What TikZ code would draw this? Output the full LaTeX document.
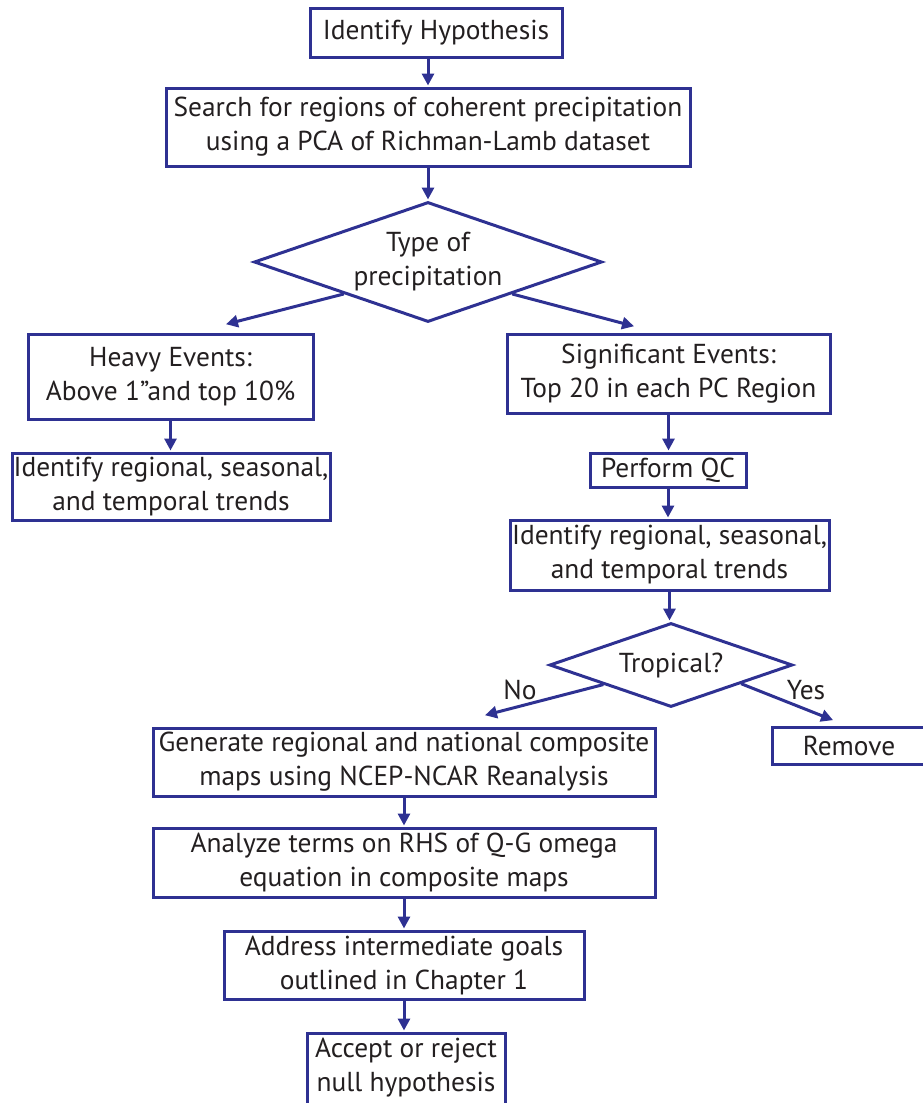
\documentclass[tikz,border=0pt]{standalone}
\usepackage{fontspec}
\setmainfont{PT Sans}
\usetikzlibrary{arrows.meta,shapes.geometric,calc}
\definecolor{fcblue}{RGB}{46,49,146}
\definecolor{fctext}{RGB}{35,31,32}
\tikzset{
  box/.style={draw=fcblue, line width=3pt, rectangle, inner sep=0pt, align=center, text=fctext},
  decision/.style={draw=fcblue, line width=3pt, diamond, inner sep=0pt},
  lbl/.style={align=center, text=fctext, inner sep=0pt},
  conn/.style={draw=fcblue, line width=3pt, -{Triangle[length=12pt,width=12pt]}, shorten >=1pt},
}
\begin{document}
\begin{tikzpicture}[x=1pt,y=-1pt, font=\fontsize{27.4}{34}\selectfont]
\useasboundingbox (0,0) rectangle (922,1103);
\node[box, minimum width=252pt, minimum height=49pt] (hyp) at (436,32.5) {Identify Hypothesis};
\node[box, minimum width=524pt, minimum height=78pt] (search) at (428,127) {Search for regions of coherent precipitation\\using a PCA of Richman-Lamb dataset};
\node[decision, minimum width=348pt, minimum height=120pt] (d1) at (428,262) {};
\node[lbl] (d1t) at (428,262) {Type of\\precipitation};
\node[box, minimum width=285pt, minimum height=85pt] (heavy) at (170.5,376.5) {Heavy Events:\\Above 1\textquotedblright and top 10\%};
\node[box, minimum width=318pt, minimum height=67pt] (idL) at (171,486.5) {Identify regional, seasonal,\\and temporal trends};
\node[box, minimum width=323pt, minimum height=79pt] (sig) at (668.5,373.5) {Significant Events:\\Top 20 in each PC Region};
\node[box, minimum width=156pt, minimum height=34pt] (qc) at (668,470) {Perform QC};
\node[box, minimum width=319pt, minimum height=70pt] (idR) at (669.5,555) {Identify regional, seasonal,\\and temporal trends};
\node[decision, minimum width=243pt, minimum height=84pt] (d2) at (671,665) {};
\node[lbl] (d2t) at (671,665) {Tropical?};
\node[box, minimum width=502pt, minimum height=68pt] (gen) at (404,762) {Generate regional and national composite\\maps using NCEP-NCAR Reanalysis};
\node[box, minimum width=154pt, minimum height=37pt] (rem) at (849,745.5) {Remove};
\node[box, minimum width=502pt, minimum height=69pt] (anal) at (404,862.5) {Analyze terms on RHS of Q-G omega\\equation in composite maps};
\node[box, minimum width=360pt, minimum height=68pt] (addr) at (404,965) {Address intermediate goals\\outlined in Chapter 1};
\node[box, minimum width=198pt, minimum height=74pt] (acc) at (406,1070) {};
\node[lbl] (acct) at (406,1068) {Accept or reject\\null hypothesis};
\node[lbl] (no) at (520,690) {No};
\node[lbl] (yes) at (806,690) {Yes};

\draw[conn] (hyp.south -| search.north) -- (search.north);
\draw[conn] (search.south) -- (d1.north);
\draw[conn] ($(d1.west)!0.52!(d1.south)$) -- ($(heavy.north)+(54.5,-8)$);
\draw[conn] ($(d1.east)!0.52!(d1.south)$) -- ($(sig.north)+(-33.5,-6)$);
\draw[conn] (heavy.south) -- (idL.north -| heavy.south);
\draw[conn] (sig.south) -- (qc.north -| sig.south);
\draw[conn] (qc.south) -- (idR.north -| qc.south);
\draw[conn] (idR.south) -- (d2.north -| idR.south);
\draw[conn] ($(d2.west)!0.45!(d2.south)$) -- ($(gen.north)+(80,-11)$);
\draw[conn] ($(d2.east)!0.43!(d2.south)$) -- ($(rem.north)+(-15,-5)$);
\draw[conn] (gen.south) -- (anal.north);
\draw[conn] (anal.south) -- (addr.north);
\draw[conn] (addr.south) -- (acc.north -| addr.south);
\end{tikzpicture}
\end{document}
